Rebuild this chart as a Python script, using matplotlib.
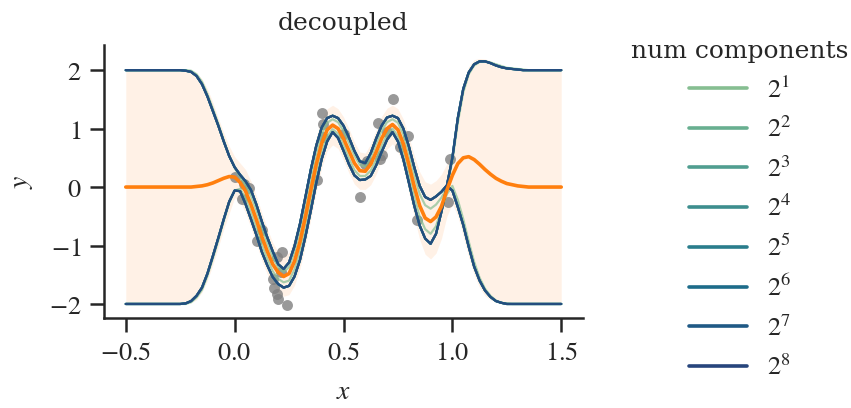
import matplotlib
matplotlib.use("Agg")
import matplotlib.pyplot as plt
from matplotlib.lines import Line2D
import seaborn as sns
import numpy as np

# ---- data -------------------------------------------------------------
x_grid = [-0.5, -0.4, -0.3, -0.25, -0.225, -0.2, -0.175, -0.15, -0.125, -0.1,
          -0.075, -0.05, -0.025, 0.0, 0.025, 0.05, 0.075, 0.1, 0.125, 0.15,
          0.175, 0.2, 0.225, 0.25, 0.275, 0.3, 0.325, 0.35, 0.375, 0.4,
          0.425, 0.45, 0.475, 0.5, 0.525, 0.55, 0.575, 0.6, 0.625, 0.65,
          0.675, 0.7, 0.725, 0.75, 0.775, 0.8, 0.825, 0.85, 0.875, 0.9,
          0.925, 0.95, 0.975, 1.0, 1.025, 1.05, 1.075, 1.1, 1.125, 1.15,
          1.175, 1.2, 1.225, 1.25, 1.275, 1.3, 1.325, 1.35, 1.4, 1.45, 1.5]

# exact posterior mean
post_mean = [0.0, 0.0, 0.0, 0.0, 0.0, 0.0, 0.01, 0.02, 0.04, 0.07,
             0.11, 0.15, 0.18, 0.17, 0.08, -0.07, -0.30, -0.56, -0.85, -1.10,
             -1.32, -1.46, -1.53, -1.48, -1.27, -0.94, -0.51, -0.05, 0.39, 0.75,
             0.98, 1.06, 1.00, 0.83, 0.62, 0.41, 0.28, 0.27, 0.39, 0.60,
             0.83, 1.00, 1.07, 0.98, 0.74, 0.39, 0.01, -0.32, -0.53, -0.59,
             -0.51, -0.33, -0.05, 0.20, 0.40, 0.50, 0.52, 0.47, 0.39, 0.30,
             0.22, 0.15, 0.10, 0.06, 0.04, 0.02, 0.01, 0.0, 0.0, 0.0, 0.0]

# exact posterior two-sigma band
band_hi = [2.0, 2.0, 2.0, 2.0, 2.0, 1.99, 1.95, 1.85, 1.68, 1.45,
           1.18, 0.93, 0.70, 0.52, 0.41, 0.30, 0.10, -0.15, -0.44, -0.71,
           -0.95, -1.11, -1.19, -1.12, -0.86, -0.48, -0.02, 0.45, 0.86, 1.17,
           1.34, 1.40, 1.34, 1.20, 1.00, 0.77, 0.60, 0.58, 0.74, 0.98,
           1.21, 1.35, 1.40, 1.34, 1.16, 0.87, 0.54, 0.26, 0.09, 0.05,
           0.11, 0.22, 0.40, 0.65, 1.28, 1.80, 2.06, 2.18, 2.20, 2.19,
           2.16, 2.12, 2.08, 2.05, 2.03, 2.02, 2.01, 2.0, 2.0, 2.0, 2.0]
band_lo = [-2.0, -2.0, -2.0, -2.0, -2.0, -1.98, -1.93, -1.80, -1.60, -1.33,
           -1.03, -0.72, -0.45, -0.18, -0.25, -0.44, -0.70, -0.97, -1.26, -1.49,
           -1.69, -1.81, -1.87, -1.84, -1.68, -1.40, -1.00, -0.55, -0.08, 0.33,
           0.62, 0.72, 0.66, 0.46, 0.24, 0.05, -0.04, -0.04, 0.04, 0.22,
           0.45, 0.65, 0.74, 0.62, 0.32, -0.09, -0.52, -0.90, -1.15, -1.23,
           -1.13, -0.88, -0.50, -0.28, -0.50, -0.85, -1.20, -1.50, -1.72, -1.86,
           -1.93, -1.97, -1.99, -2.0, -2.0, -2.0, -2.0, -2.0, -2.0, -2.0, -2.0]

# decoupled-sampling two-sigma bounds, 2^1 components
upper_2 = [2.0, 2.0, 2.0, 2.0, 2.0, 1.99, 1.93, 1.80, 1.59, 1.34,
           1.08, 0.80, 0.54, 0.33, 0.17, 0.03, -0.15, -0.40, -0.69, -0.96,
           -1.19, -1.38, -1.45, -1.37, -1.11, -0.75, -0.31, 0.16, 0.58, 0.91,
           1.10, 1.16, 1.11, 0.96, 0.76, 0.54, 0.38, 0.35, 0.50, 0.74,
           0.96, 1.11, 1.16, 1.10, 0.90, 0.58, 0.21, -0.12, -0.31, -0.37,
           -0.30, -0.18, -0.02, 0.45, 1.10, 1.62, 1.93, 2.08, 2.14, 2.15,
           2.13, 2.10, 2.07, 2.04, 2.03, 2.02, 2.01, 2.0, 2.0, 2.0, 2.0]
lower_2 = [-2.0, -2.0, -2.0, -2.0, -2.0, -1.97, -1.89, -1.76, -1.52, -1.22,
           -0.91, -0.58, -0.27, -0.06, -0.03, -0.19, -0.44, -0.70, -0.99, -1.23,
           -1.44, -1.57, -1.63, -1.60, -1.41, -1.11, -0.70, -0.24, 0.21, 0.60,
           0.87, 0.99, 0.91, 0.71, 0.49, 0.29, 0.19, 0.19, 0.28, 0.47,
           0.70, 0.90, 1.00, 0.87, 0.59, 0.22, -0.17, -0.51, -0.72, -0.80,
           -0.67, -0.38, -0.12, 0.02, -0.22, -0.55, -0.93, -1.28, -1.55, -1.74,
           -1.86, -1.94, -1.98, -1.99, -2.0, -2.0, -2.0, -2.0, -2.0, -2.0, -2.0]

# decoupled-sampling two-sigma bounds, 2^2 ... 2^8 components (coincident)
upper_many = [2.0, 2.0, 2.0, 2.0, 1.99, 1.97, 1.90, 1.76, 1.55, 1.30,
              1.05, 0.78, 0.53, 0.34, 0.21, 0.10, -0.05, -0.30, -0.59, -0.86,
              -1.10, -1.32, -1.40, -1.29, -1.01, -0.63, -0.17, 0.30, 0.71, 1.02,
              1.18, 1.22, 1.18, 1.05, 0.85, 0.62, 0.44, 0.41, 0.58, 0.83,
              1.05, 1.19, 1.22, 1.18, 1.00, 0.70, 0.34, 0.02, -0.17, -0.22,
              -0.16, -0.08, 0.03, 0.50, 1.18, 1.68, 1.96, 2.10, 2.15, 2.15,
              2.12, 2.08, 2.05, 2.03, 2.02, 2.01, 2.0, 2.0, 2.0, 2.0, 2.0]
lower_many = [-2.0, -2.0, -2.0, -2.0, -1.99, -1.95, -1.86, -1.72, -1.48, -1.18,
              -0.87, -0.55, -0.25, -0.06, -0.07, -0.29, -0.55, -0.82, -1.11, -1.34,
              -1.54, -1.66, -1.72, -1.69, -1.53, -1.25, -0.85, -0.40, 0.07, 0.48,
              0.78, 0.94, 0.84, 0.62, 0.39, 0.20, 0.12, 0.13, 0.19, 0.37,
              0.60, 0.81, 0.94, 0.78, 0.47, 0.08, -0.32, -0.66, -0.88, -0.97,
              -0.80, -0.42, 0.02, -0.06, -0.34, -0.65, -1.02, -1.36, -1.60, -1.77,
              -1.88, -1.95, -1.98, -2.0, -2.0, -2.0, -2.0, -2.0, -2.0, -2.0, -2.0]

num_components = [2, 4, 8, 16, 32, 64, 128, 256]
legend_labels = [r"$2^{1}$", r"$2^{2}$", r"$2^{3}$", r"$2^{4}$",
                 r"$2^{5}$", r"$2^{6}$", r"$2^{7}$", r"$2^{8}$"]

# training observations
obs_x = [0.000, 0.045, 0.068, 0.036, 0.125, 0.102, 0.219, 0.194, 0.212, 0.174,
         0.181, 0.194, 0.197, 0.242, 0.378, 0.402, 0.408, 0.405, 0.500, 0.577,
         0.607, 0.600, 0.668, 0.676, 0.660, 0.729, 0.700, 0.760, 0.798, 0.836,
         0.988, 0.982]
obs_y = [0.17, 0.06, -0.02, -0.20, -0.73, -0.93, -1.11, -1.20, -1.45, -1.57,
         -1.72, -1.83, -1.92, -2.02, 0.12, 1.27, 1.08, 0.85, 0.90, -0.17,
         0.45, 0.40, 0.48, 0.54, 1.10, 1.50, 0.94, 0.68, 0.88, -0.57,
         0.48, -0.25]

# ---- style ------------------------------------------------------------
sns.set_style("ticks")
plt.rcParams["font.family"] = ["DejaVu Serif"]
plt.rcParams["mathtext.fontset"] = "stix"
plt.rcParams["axes.unicode_minus"] = True

palette = sns.color_palette("crest", len(num_components))
orange = "#ff7f0e"
ink = "#262626"

fig = plt.figure(figsize=(8.51, 4.08), dpi=100)
ax = fig.add_axes([104 / 851, 1 - 318 / 408, (583 - 104) / 851, (318 - 45) / 408])

ax.fill_between(x_grid, band_lo, band_hi, color=orange, alpha=0.1, lw=0, zorder=1)
ax.scatter(obs_x, obs_y, s=62, color="gray", alpha=0.8, lw=0, zorder=2)

for i, n in enumerate(num_components):
    if n == 2:
        up, lo = upper_2, lower_2
    else:
        up, lo = upper_many, lower_many
    ax.plot(x_grid, up, color=palette[i], lw=1.6, alpha=0.7, zorder=3)
    ax.plot(x_grid, lo, color=palette[i], lw=1.6, alpha=0.7, zorder=3)

ax.plot(x_grid, post_mean, color=orange, lw=2.6, zorder=4)

ax.set_xlim(-0.6, 1.6)
ax.set_ylim(-2.24, 2.43)
ax.set_xticks([-0.5, 0.0, 0.5, 1.0, 1.5])
ax.set_xticklabels([r"$-0.5$", r"$0.0$", r"$0.5$", r"$1.0$", r"$1.5$"])
ax.set_yticks([-2, -1, 0, 1, 2])
ax.set_yticklabels([r"$-2$", r"$-1$", r"$0$", r"$1$", r"$2$"])
ax.tick_params(axis="both", length=10, width=1.8, labelsize=19, pad=6,
               color=ink, labelcolor=ink)
for side in ("left", "bottom"):
    ax.spines[side].set_linewidth(1.8)
    ax.spines[side].set_color(ink)
sns.despine(ax=ax)

ax.set_xlabel(r"$x$", fontsize=20, labelpad=9, color=ink)
ax.set_ylabel(r"$y$", fontsize=20, labelpad=10, color=ink)
ax.set_title("decoupled", fontsize=18, pad=11, color=ink)

handles = [Line2D([], [], color=c, lw=2.6) for c in palette]
leg = fig.legend(handles, legend_labels, title="num components",
                 loc="upper center", bbox_to_anchor=(740 / 851, 1 - 16 / 408),
                 frameon=False, fontsize=19, title_fontsize=18,
                 handlelength=2.2, handletextpad=0.75, labelspacing=0.52)
leg.get_title().set_color(ink)
for t in leg.get_texts():
    t.set_color(ink)

fig.savefig("out.png", dpi=100)
